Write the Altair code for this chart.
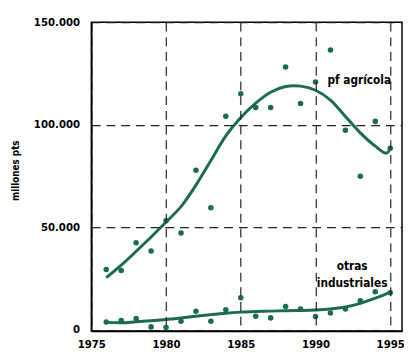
import altair as alt
import pandas as pd

years = list(range(1976, 1996))
agricola = [29300, 28800, 42400, 38300, 53100, 47100, 77800, 59500, 104100, 115100,
            108400, 108400, 128100, 110300, 120800, 136400, 97300, 74800, 101600, 88500]
industriales = [3700, 4400, 5400, 1300, 1000, 4100, 8900, 4100, 9700, 15500,
                6500, 5700, 11300, 10000, 6400, 8100, 10000, 14000, 18500, 18000]

fit_years_a = [1976, 1977, 1978, 1979, 1980, 1981, 1982, 1983, 1984, 1985, 1986, 1987,
               1988, 1989, 1990, 1991, 1992, 1993, 1994, 1994.75, 1995]
fit_agricola = [25300, 31400, 38200, 45200, 52500, 60000, 70500, 82500, 94500, 103500,
                110500, 115800, 118600, 118800, 116800, 112000, 104000, 96000, 89500, 86100, 88300]
fit_years_i = list(range(1976, 1996))
fit_industriales = [3500, 3300, 3800, 4300, 4900, 5600, 6500, 7300, 8000, 8500,
                    8800, 9000, 9200, 9300, 9500, 10000, 11000, 12800, 15300, 18300]

label_text = ["pf agrícola", "otras", "industriales"]
label_x = [1990.8, 1992.45, 1992.45]
label_y = [121900, 31200, 22800]
label_align = ["left", "center", "center"]

y_ticks = [0, 50000, 100000, 150000]
x_ticks = [1975, 1980, 1985, 1990, 1995]

GREEN = "#1b6b4e"
FONT = "'DejaVu Sans Condensed', 'Roboto Condensed', 'Liberation Sans', 'DejaVu Sans', sans-serif"

pts = pd.DataFrame({
    "year": years * 2,
    "value": agricola + industriales,
    "serie": ["pf agrícola"] * 20 + ["otras industriales"] * 20,
})
fit = pd.DataFrame({
    "year": fit_years_a + fit_years_i,
    "value": fit_agricola + fit_industriales,
    "serie": ["pf agrícola"] * len(fit_years_a) + ["otras industriales"] * len(fit_years_i),
})
labels = pd.DataFrame({"text": label_text, "year": label_x, "value": label_y, "align": label_align})

xscale = alt.Scale(domain=[1975, 1995.79], nice=False, zero=False)
yscale = alt.Scale(domain=[-700, 150000], nice=False, zero=False)

xaxis = alt.Axis(values=x_ticks, format="d", title=None, grid=True, gridDash=[9, 6],
                 gridColor="#222222", gridWidth=1.2, gridOpacity=1, tickSize=0,
                 labelPadding=8, labelFlush=False, domainColor="black", domainWidth=1.5, zindex=1)
yaxis = alt.Axis(values=y_ticks, title="millones pts", grid=True, gridDash=[9, 6],
                 gridColor="#222222", gridWidth=1.2, gridOpacity=1, tickSize=0,
                 labelPadding=12, labelFlush=False, domainColor="black", domainWidth=1.5, zindex=1,
                 labelExpr="datum.value == 0 ? '0' : replace(format(datum.value, ',d'), ',', '.')",
                 titleX=-77, titleY=151, titleAngle=270, titleBaseline="middle",
                 titleFont=FONT, titleFontSize=10, titleFontWeight="bold", titleColor="black")

lines = alt.Chart(fit).mark_line(color=GREEN, strokeWidth=3, interpolate="catmull-rom").encode(
    x=alt.X("year:Q", scale=xscale, axis=xaxis),
    y=alt.Y("value:Q", scale=yscale, axis=yaxis),
    detail="serie:N",
)
points = alt.Chart(pts).mark_circle(color=GREEN, size=32, opacity=1).encode(
    x=alt.X("year:Q", scale=xscale),
    y=alt.Y("value:Q", scale=yscale),
)
txt_left = alt.Chart(labels).transform_filter("datum.align == 'left'").mark_text(
    align="left", baseline="middle", font=FONT, fontSize=12, fontWeight="bold", color="black"
).encode(x=alt.X("year:Q", scale=xscale), y=alt.Y("value:Q", scale=yscale), text="text:N")
txt_center = alt.Chart(labels).transform_filter("datum.align == 'center'").mark_text(
    align="center", baseline="middle", font=FONT, fontSize=12, fontWeight="bold", color="black"
).encode(x=alt.X("year:Q", scale=xscale), y=alt.Y("value:Q", scale=yscale), text="text:N")

chart = alt.layer(lines, points, txt_left, txt_center).properties(
    width=317, height=315,
    autosize=alt.AutoSizeParams(type="none"),
    padding={"left": 85, "top": 11, "right": 2, "bottom": 22},
).configure_view(stroke="black", strokeWidth=1.5).configure_axis(
    labelFont=FONT, labelFontSize=11.5, labelFontWeight="bold", labelColor="black",
)

chart.save("out.html", embed_options={"renderer": "svg", "actions": False})
